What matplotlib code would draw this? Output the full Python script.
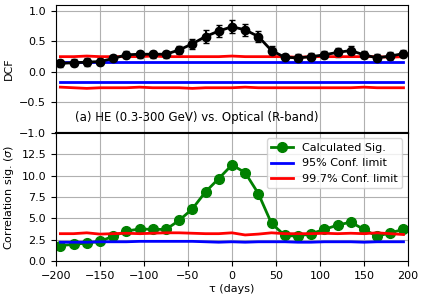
import numpy as np
import matplotlib
matplotlib.use("Agg")
import matplotlib.pyplot as plt

# lags in days
tau = [-195, -180, -165, -150, -135, -120, -105, -90, -75, -60, -45, -30, -15, 0,
       15, 30, 45, 60, 75, 90, 105, 120, 135, 150, 165, 180, 195]

dcf = [0.14, 0.15, 0.16, 0.17, 0.22, 0.28, 0.29, 0.29, 0.29, 0.36, 0.46, 0.58, 0.67, 0.74,
       0.69, 0.58, 0.35, 0.24, 0.23, 0.25, 0.28, 0.32, 0.35, 0.28, 0.23, 0.26, 0.30]
dcf_err = [0.06, 0.06, 0.06, 0.06, 0.06, 0.06, 0.06, 0.06, 0.06, 0.07, 0.08, 0.10, 0.10, 0.11,
           0.10, 0.09, 0.07, 0.06, 0.06, 0.06, 0.06, 0.07, 0.07, 0.06, 0.06, 0.06, 0.06]

# confidence limits on the DCF
c95_up = [0.16, 0.16, 0.16, 0.16, 0.16, 0.16, 0.16, 0.16, 0.16, 0.16, 0.16, 0.16, 0.16, 0.16,
          0.16, 0.16, 0.16, 0.16, 0.16, 0.16, 0.16, 0.16, 0.16, 0.16, 0.16, 0.16, 0.16]
c95_lo = [-0.17, -0.17, -0.17, -0.17, -0.17, -0.17, -0.17, -0.17, -0.17, -0.17, -0.17, -0.17, -0.17, -0.17,
          -0.17, -0.17, -0.17, -0.17, -0.17, -0.17, -0.17, -0.17, -0.17, -0.17, -0.17, -0.17, -0.17]
c997_up = [0.25, 0.25, 0.26, 0.25, 0.25, 0.25, 0.25, 0.26, 0.25, 0.25, 0.25, 0.25, 0.25, 0.26,
           0.25, 0.25, 0.25, 0.25, 0.24, 0.25, 0.25, 0.25, 0.25, 0.25, 0.25, 0.24, 0.25]
c997_lo = [-0.25, -0.26, -0.27, -0.26, -0.26, -0.26, -0.25, -0.26, -0.26, -0.26, -0.27, -0.26, -0.26, -0.26,
           -0.25, -0.26, -0.26, -0.26, -0.26, -0.26, -0.26, -0.26, -0.26, -0.25, -0.26, -0.26, -0.26]

# significance panel
sig = [1.8, 1.95, 2.1, 2.3, 2.9, 3.5, 3.75, 3.7, 3.7, 4.75, 6.1, 8.1, 9.65, 11.25,
       10.35, 7.9, 4.4, 3.0, 2.9, 3.2, 3.7, 4.2, 4.55, 3.7, 2.9, 3.3, 3.7]
s95 = [2.2, 2.2, 2.2, 2.25, 2.25, 2.25, 2.3, 2.3, 2.3, 2.3, 2.3, 2.25, 2.2, 2.25,
       2.2, 2.25, 2.25, 2.25, 2.2, 2.2, 2.25, 2.25, 2.25, 2.2, 2.25, 2.25, 2.25]
s997 = [3.2, 3.2, 3.3, 3.15, 3.2, 3.25, 3.2, 3.25, 3.3, 3.3, 3.25, 3.2, 3.2, 3.3,
        3.05, 3.15, 3.3, 3.2, 3.2, 3.2, 3.25, 3.2, 3.25, 3.2, 3.3, 3.2, 3.1]

fs = 8

fig, (ax1, ax2) = plt.subplots(2, 1, sharex=True, figsize=(4.24, 3.0), dpi=100)
fig.subplots_adjust(left=0.132, right=0.962, top=0.984, bottom=0.13, hspace=0)

# upper panel: DCF
ax1.errorbar(tau, dcf, yerr=dcf_err, color="k", marker="o", markersize=6, linewidth=2,
             elinewidth=1.5, capsize=2)
ax1.plot(tau, c95_up, color="b", linewidth=2)
ax1.plot(tau, c95_lo, color="b", linewidth=2)
ax1.plot(tau, c997_up, color="r", linewidth=2)
ax1.plot(tau, c997_lo, color="r", linewidth=2)
ax1.text(-178, -0.74, "(a) HE (0.3-300 GeV) vs. Optical (R-band)", fontsize=8.5, va="center")
ax1.set_ylim(-1.0, 1.1)
ax1.set_yticks([-1.0, -0.5, 0.0, 0.5, 1.0])
ax1.set_ylabel("DCF", fontsize=fs)
ax1.grid(True)

# lower panel: significance
ax2.plot(tau, sig, color="g", marker="o", markersize=7, linewidth=2, label="Calculated Sig.")
ax2.plot(tau, s95, color="b", linewidth=2, label="95% Conf. limit")
ax2.plot(tau, s997, color="r", linewidth=2, label="99.7% Conf. limit")
ax2.set_ylim(0, 15)
ax2.set_yticks([0.0, 2.5, 5.0, 7.5, 10.0, 12.5])
ax2.set_ylabel(r"Correlation sig. ($\sigma$)", fontsize=fs)
ax2.set_xlabel("τ (days)", fontsize=fs, labelpad=2)
ax2.set_xlim(-200, 200)
ax2.grid(True)
ax2.legend(loc="upper right", fontsize=fs)

for ax in (ax1, ax2):
    ax.tick_params(labelsize=fs)
ax1.spines["bottom"].set_linewidth(1.5)
ax2.spines["top"].set_linewidth(1.5)

fig.savefig("out.png", dpi=100)
